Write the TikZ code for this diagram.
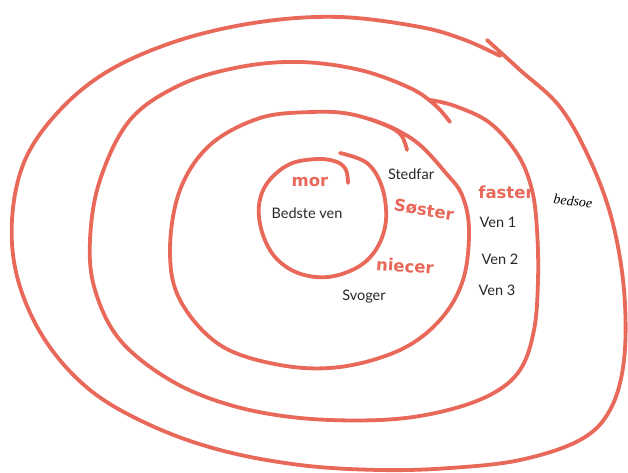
\documentclass[tikz,border=0pt]{standalone}
\usepackage{fontspec}
\setmainfont{Lato}
\newfontfamily\handfont{DejaVu Sans}
\newfontfamily\penfont{Liberation Serif}
\definecolor{ink}{RGB}{232,104,90}
\definecolor{txt}{RGB}{40,40,40}
\begin{document}
\begin{tikzpicture}[x=1pt,y=-1pt,
  ring/.style={draw=ink,line width=3.8pt,line cap=round,line join=round},
  lbl/.style={text=txt,font=\fontsize{14.5}{16}\selectfont,inner sep=0pt},
  hand/.style={text=ink,font=\handfont\bfseries\fontsize{16.5}{18}\selectfont,inner sep=0pt},
  pen/.style={text=black,font=\penfont\itshape\fontsize{14}{15}\selectfont,inner sep=0pt}]
\useasboundingbox (0,0) rectangle (628,473);
\fill[white] (0,0) rectangle (628,473);
% outer ring
\draw[ring] plot[smooth,tension=0.6] coordinates {(487,40) (520,70) (560,107) (590,160) (612,220) (624,290) (624,360) (610,410) (580,440) (520,460) (450,468) (380,470) (300,465) (220,450) (150,425) (90,390) (45,340) (18,280) (12,220) (25,160) (60,110) (110,70) (180,40) (260,22) (340,17) (420,27) (465,40) (500,56)};
% middle ring
\draw[ring] plot[smooth,tension=0.6] coordinates {(430,100) (455,106) (490,123) (518,155) (532,190) (537,230) (538,280) (534,330) (520,370) (490,395) (440,412) (380,420) (300,418) (230,405) (170,380) (120,340) (95,290) (90,240) (100,180) (130,120) (180,85) (240,67) (300,62) (360,70) (410,88) (435,105) (450,122)};
% inner ring
\draw[ring] plot[smooth,tension=0.6] coordinates {(407,150) (401,135) (385,125) (350,114) (312,112) (260,118) (210,145) (180,190) (170,250) (180,300) (220,345) (280,365) (340,367) (400,350) (440,320) (463,280) (469,230) (462,195) (445,172) (420,145) (395,129) (370,119)};
% innermost ring
\draw[ring] plot[smooth,tension=0.6] coordinates {(340,153) (367,163) (382,187) (386,220) (377,248) (358,267) (328,277) (298,273) (275,257) (262,232) (259,205) (268,182) (290,164) (318,159) (337,162) (346,170) (348,183)};
% labels
\node[hand] (mor) at (310,182) {mor};
\node[lbl] (bedste) at (307,213) {Bedste ven};
\node[lbl] (stedfar) at (411,174) {Stedfar};
\node[hand,rotate=-9] (soster) at (424,210) {Søster};
\node[hand,rotate=-4] (niecer) at (405,266) {niecer};
\node[lbl] (svoger) at (364,297) {Svoger};
\node[hand] (faster) at (506,192) {faster};
\node[pen,rotate=-6] (bedsoe) at (573,201) {bedsoe};
\node[lbl] (ven1) at (498,222) {Ven 1};
\node[lbl] (ven2) at (500,259) {Ven 2};
\node[lbl] (ven3) at (497,290) {Ven 3};
\end{tikzpicture}
\end{document}
